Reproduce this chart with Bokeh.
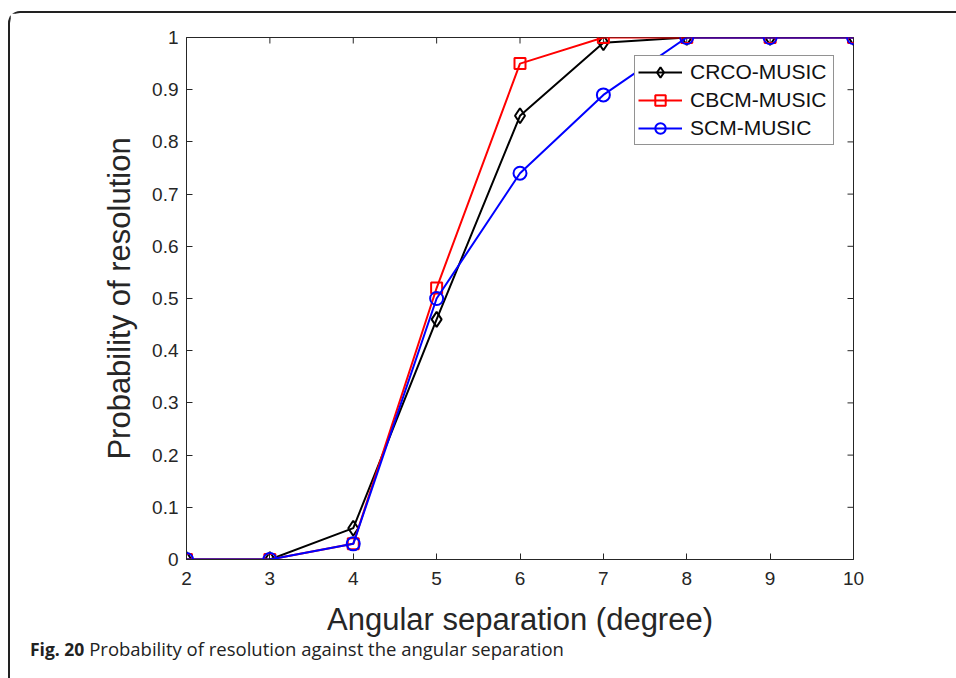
import math
from bokeh.plotting import figure
from bokeh.layouts import column
from bokeh.models import FixedTicker, Legend, LegendItem, Range1d, Div
from bokeh.embed import file_html
from bokeh.resources import INLINE

angles = [2, 3, 4, 5, 6, 7, 8, 9, 10]
crco_music = [0, 0, 0.06, 0.46, 0.85, 0.99, 1, 1, 1]
cbcm_music = [0, 0, 0.03, 0.52, 0.95, 1, 1, 1, 1]
scm_music = [0, 0, 0.03, 0.50, 0.74, 0.89, 1, 1, 1]

x_ticks = [2, 3, 4, 5, 6, 7, 8, 9, 10]
y_ticks = [0, 0.1, 0.2, 0.3, 0.4, 0.5, 0.6, 0.7, 0.8, 0.9, 1]
y_tick_labels = ["0", "0.1", "0.2", "0.3", "0.4", "0.5", "0.6", "0.7", "0.8", "0.9", "1"]

AX = "#262626"
FONT = "Liberation Sans"

p = figure(width=936, height=626, x_range=Range1d(2, 10), y_range=Range1d(0, 1),
           output_backend="svg", toolbar_location=None,
           min_border_left=176, min_border_right=93, min_border_top=24, min_border_bottom=80,
           x_axis_label="Angular separation (degree)", y_axis_label="Probability of resolution")
p.grid.visible = False
p.outline_line_color = AX
p.outline_line_width = 1

def style_axis(ax):
    ax.axis_line_color = AX
    ax.axis_line_width = 1
    ax.major_tick_line_color = AX
    ax.major_tick_in = 6
    ax.major_tick_out = 0
    ax.minor_tick_line_color = None
    ax.major_label_text_font = FONT
    ax.major_label_text_font_size = "19px"
    ax.major_label_text_color = AX
    ax.axis_label_text_font = FONT
    ax.axis_label_text_font_size = "31px"
    ax.axis_label_text_font_style = "normal"
    ax.axis_label_text_color = AX

xa = p.xaxis[0]
ya = p.yaxis[0]
xa.ticker = FixedTicker(ticks=x_ticks)
ya.ticker = FixedTicker(ticks=y_ticks)
ya.major_label_overrides = {t: l for t, l in zip(y_ticks, y_tick_labels)}
style_axis(xa)
style_axis(ya)
xa.major_label_standoff = 12
xa.axis_label_standoff = 14
ya.major_label_standoff = 8
ya.axis_label_standoff = 12

# inward ticks on the top and right edges of the box (half clipped by the frame)
p.scatter(x_ticks, [y_ticks[-1]] * len(x_ticks), marker="dash", angle=math.pi / 2,
          size=12, line_color=AX, line_width=1)
p.scatter([x_ticks[-1]] * len(y_ticks), y_ticks, marker="dash",
          size=12, line_color=AX, line_width=1)

l1 = p.line(angles, crco_music, line_color="#000000", line_width=2)
m1 = p.scatter(angles, crco_music, marker="diamond", size=15, line_color="#000000",
               fill_color=None, line_width=2)
l2 = p.line(angles, cbcm_music, line_color="#FF0000", line_width=2)
m2 = p.scatter(angles, cbcm_music, marker="square", size=11, line_color="#FF0000",
               fill_color=None, line_width=2)
l3 = p.line(angles, scm_music, line_color="#0000FF", line_width=2)
m3 = p.scatter(angles, scm_music, marker="circle", size=13, line_color="#0000FF",
               fill_color=None, line_width=2)

legend = Legend(items=[
    LegendItem(label="CRCO-MUSIC", renderers=[l1, m1]),
    LegendItem(label="CBCM-MUSIC", renderers=[l2, m2]),
    LegendItem(label="SCM-MUSIC", renderers=[l3, m3]),
], location=(448, 414))
legend.label_text_font = FONT
legend.label_text_font_size = "21px"
legend.label_text_color = "#111111"
legend.glyph_width = 44
legend.glyph_height = 26
legend.label_height = 26
legend.label_width = 140
legend.spacing = 2
legend.padding = 3
legend.margin = 0
legend.label_standoff = 8
legend.border_line_color = AX
legend.border_line_width = 1
legend.background_fill_color = "white"
legend.background_fill_alpha = 1
p.add_layout(legend)

caption = Div(
    text='<b style="font-size:17.5px">Fig. 20</b> Probability of resolution against the angular separation',
    width=936, height=34,
    styles={"font-family": "Open Sans", "font-size": "18.5px", "color": "#222222",
            "padding-left": "15px", "line-height": "10px"})

layout = column(p, caption, spacing=0,
                styles={"margin-left": "8px", "margin-top": "11px",
                        "border-left": "2px solid #222222", "border-top": "2px solid #222222",
                        "border-top-left-radius": "12px"})

open("out.html", "w").write(file_html(layout, INLINE))
